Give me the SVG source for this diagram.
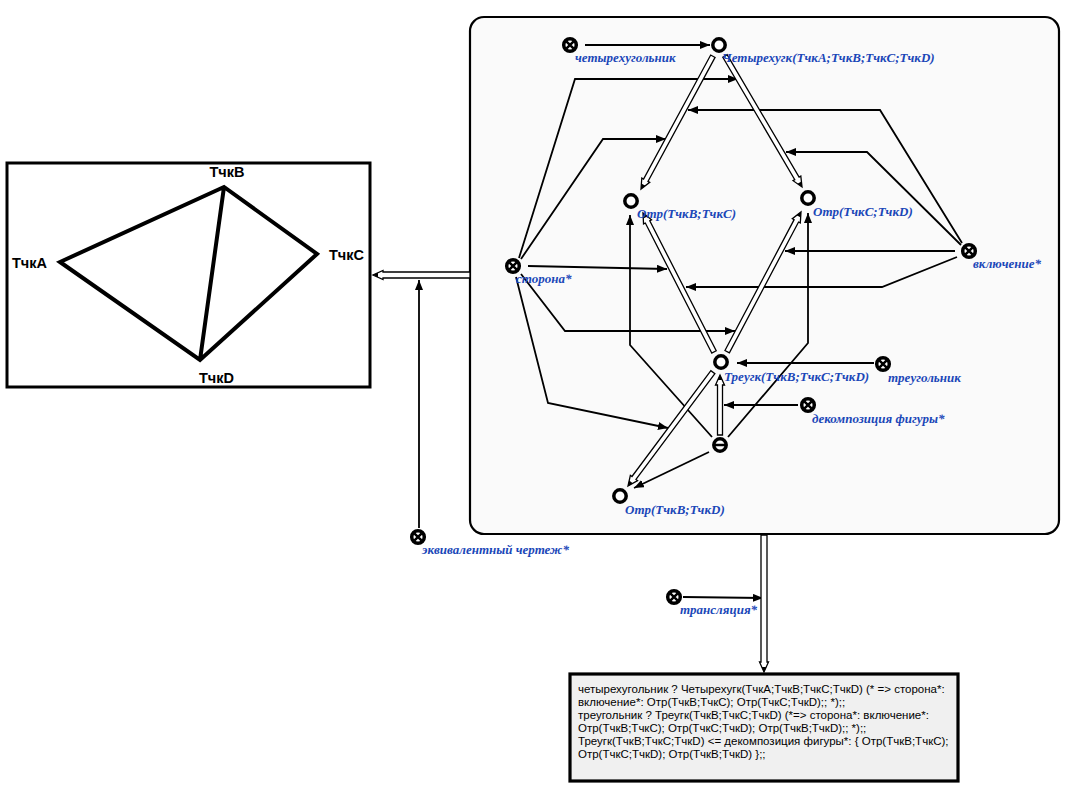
<svg xmlns="http://www.w3.org/2000/svg" xmlns:xlink="http://www.w3.org/1999/xlink" width="1075" height="788" viewBox="0 0 1075 788">
<style>
.n{fill:#fff;stroke:#000;stroke-width:3.5}
.x{stroke:#000;stroke-width:2.5;fill:none}
.c{fill:none;stroke:#000;stroke-width:1.8}
.lb{font-family:"Liberation Serif",serif;font-style:italic;font-weight:bold;font-size:13px;fill:#1a47b8}
.dbl{fill:#fff;stroke:#000;stroke-width:1.3}
.fig{fill:none;stroke:#000;stroke-width:4;stroke-linejoin:miter}
.pt{font-family:"Liberation Sans",Arial,sans-serif;font-weight:bold;font-size:14.5px;fill:#000}
.tx{font-family:"Liberation Sans",Arial,sans-serif;font-size:11.5px;fill:#000}
</style>
<defs>
<marker id="ah" markerWidth="10" markerHeight="8" refX="10" refY="4" orient="auto" markerUnits="userSpaceOnUse"><path d="M0,0 L10,4 L0,8 Z" fill="#000"/></marker>
<g id="xn"><circle r="6.3" class="n"/><path d="M-3.7,-3.7 L3.7,3.7 M3.7,-3.7 L-3.7,3.7" class="x"/></g>
<g id="on"><circle r="6.2" class="n"/></g>
<path id="tip" d="M-5,-2.3 L0,0 L-5,2.3 Z" fill="#000"/>
</defs>
<rect width="1075" height="788" fill="#fff"/>

<g id="figure">
<rect x="7" y="163" width="363" height="224" fill="#fff" stroke="#000" stroke-width="3"/>
<path class="fig" d="M60,262 L224,187 L317,254 L200,360 Z M224,187 L200,360"/>
<text class="pt" x="227" y="177" text-anchor="middle">ТчкВ</text>
<text class="pt" x="12" y="268">ТчкА</text>
<text class="pt" x="329" y="260">ТчкС</text>
<text class="pt" x="199" y="383">ТчкD</text>
</g>

<g id="panel">
<rect x="470" y="17" width="589" height="517" rx="14" ry="14" fill="#fafafa" stroke="#000" stroke-width="2.2"/>
</g>

<g id="textbox">
<rect x="570" y="674" width="388" height="107" fill="#f0f0f0" stroke="#000" stroke-width="3.2"/>
<text class="tx" x="578" y="693">четырехугольник ? Четырехугк(ТчкА;ТчкВ;ТчкС;ТчкD) (* =&gt; сторона*:</text>
<text class="tx" x="578" y="706">включение*: Отр(ТчкВ;ТчкС); Отр(ТчкС;ТчкD);; *);;</text>
<text class="tx" x="578" y="719">треугольник ? Треугк(ТчкВ;ТчкС;ТчкD) (*=&gt; сторона*: включение*:</text>
<text class="tx" x="578" y="732">Отр(ТчкВ;ТчкС); Отр(ТчкС;ТчкD); Отр(ТчкВ;ТчкD);; *);;</text>
<text class="tx" x="578" y="745">Треугк(ТчкВ;ТчкС;ТчкD) &lt;= декомпозиция фигуры*: { Отр(ТчкВ;ТчкС);</text>
<text class="tx" x="578" y="758">Отр(ТчкС;ТчкD); Отр(ТчкВ;ТчкD) };;</text>
</g>

<g id="connectors">
<path class="c" marker-end="url(#ah)" d="M585,45 L710,45"/>
<path class="c" marker-end="url(#ah)" d="M519,258 L575,79 L738,79"/>
<path class="c" marker-end="url(#ah)" d="M521,259 L603,139 L666,139"/>
<path class="c" marker-end="url(#ah)" d="M528,266 L667,269"/>
<path class="c" marker-end="url(#ah)" d="M521,274 L565,331 L735,331"/>
<path class="c" marker-end="url(#ah)" d="M516,277 L548,403 L668,428"/>
<path class="c" marker-end="url(#ah)" d="M962,243 L880,110 L688,110"/>
<path class="c" marker-end="url(#ah)" d="M961,245 L867,152 L786,152"/>
<path class="c" marker-end="url(#ah)" d="M955,251 L785,251"/>
<path class="c" marker-end="url(#ah)" d="M957,257 L882,287 L686,287"/>
<path class="c" marker-end="url(#ah)" d="M874,363 L737,363"/>
<path class="c" marker-end="url(#ah)" d="M798,405 L724,405"/>
<path class="c" marker-end="url(#ah)" d="M712,437 L630,345 L630,215"/>
<path class="c" marker-end="url(#ah)" d="M728,437 L808,343 L808,213"/>
<path class="c" marker-end="url(#ah)" d="M709,452 L634,488"/>
<path class="c" marker-end="url(#ah)" d="M419,528 L419,280"/>
<path class="c" marker-end="url(#ah)" d="M683,597 L763,598"/>
<g transform="translate(641,189) rotate(118.43)"><path class="dbl" d="M-151,-2.5H-10V-4.5L0,0L-10,4.5V2.5H-151Z"/><use href="#tip"/></g>
<g transform="translate(802,187) rotate(59.55)"><path class="dbl" d="M-152,-2.5H-10V-4.5L0,0L-10,4.5V2.5H-152Z"/><use href="#tip"/></g>
<g transform="translate(643,213) rotate(-117.06)"><path class="dbl" d="M-156,-2.5H-10V-4.5L0,0L-10,4.5V2.5H-156Z"/><use href="#tip"/></g>
<g transform="translate(801,212) rotate(-62.14)"><path class="dbl" d="M-158,-2.5H-10V-4.5L0,0L-10,4.5V2.5H-158Z"/><use href="#tip"/></g>
<g transform="translate(628,486) rotate(126.71)"><path class="dbl" d="M-142,-2.5H-10V-4.5L0,0L-10,4.5V2.5H-142Z"/><use href="#tip"/></g>
<g transform="translate(720,375) rotate(-90)"><path class="dbl" d="M-60,-2.5H-10V-4.5L0,0L-10,4.5V2.5H-60Z"/><use href="#tip"/></g>
<g transform="translate(373,275) rotate(180)"><path class="dbl" d="M-97,-3H-10V-4.5L0,0L-10,4.5V3H-97Z"/><use href="#tip"/></g>
<g transform="translate(764,672) rotate(90)"><path class="dbl" d="M-137,-3H-10V-4.5L0,0L-10,4.5V3H-137Z"/><use href="#tip"/></g>
</g>

<g id="n-chetyrehugolnik"><use href="#xn" x="570" y="45"/><text class="lb" x="575" y="62">четырехугольник</text></g>
<g id="n-chetyrehugk"><use href="#on" x="719" y="45"/><text class="lb" x="722" y="62">Четырехугк(ТчкА;ТчкВ;ТчкС;ТчкD)</text></g>
<g id="n-otr-bc"><use href="#on" x="631" y="201"/><text class="lb" x="637" y="218">Отр(ТчкВ;ТчкС)</text></g>
<g id="n-otr-cd"><use href="#on" x="808" y="198"/><text class="lb" x="813" y="216">Отр(ТчкС;ТчкD)</text></g>
<g id="n-storona"><use href="#xn" x="513" y="266"/><text class="lb" x="516" y="283">сторона*</text></g>
<g id="n-vklyuchenie"><use href="#xn" x="969" y="251"/><text class="lb" x="973" y="268">включение*</text></g>
<g id="n-treugk"><use href="#on" x="721" y="362"/><text class="lb" x="724" y="381">Треугк(ТчкВ;ТчкС;ТчкD)</text></g>
<g id="n-treugolnik"><use href="#xn" x="883" y="364"/><text class="lb" x="888" y="382">треугольник</text></g>
<g id="n-dekompoziciya"><use href="#xn" x="808" y="405"/><text class="lb" x="812" y="423">декомпозиция фигуры*</text></g>
<g id="n-minus"><circle cx="720" cy="445" r="6.2" class="n"/><path d="M714.5,445 H725.5" class="x"/></g>
<g id="n-otr-bd"><use href="#on" x="620" y="496"/><text class="lb" x="625" y="514">Отр(ТчкВ;ТчкD)</text></g>
<g id="n-ekvivalent"><use href="#xn" x="418" y="537"/><text class="lb" x="422" y="554">эквивалентный чертеж*</text></g>
<g id="n-translyaciya"><use href="#xn" x="674" y="597"/><text class="lb" x="680" y="614">трансляция*</text></g>
</svg>
